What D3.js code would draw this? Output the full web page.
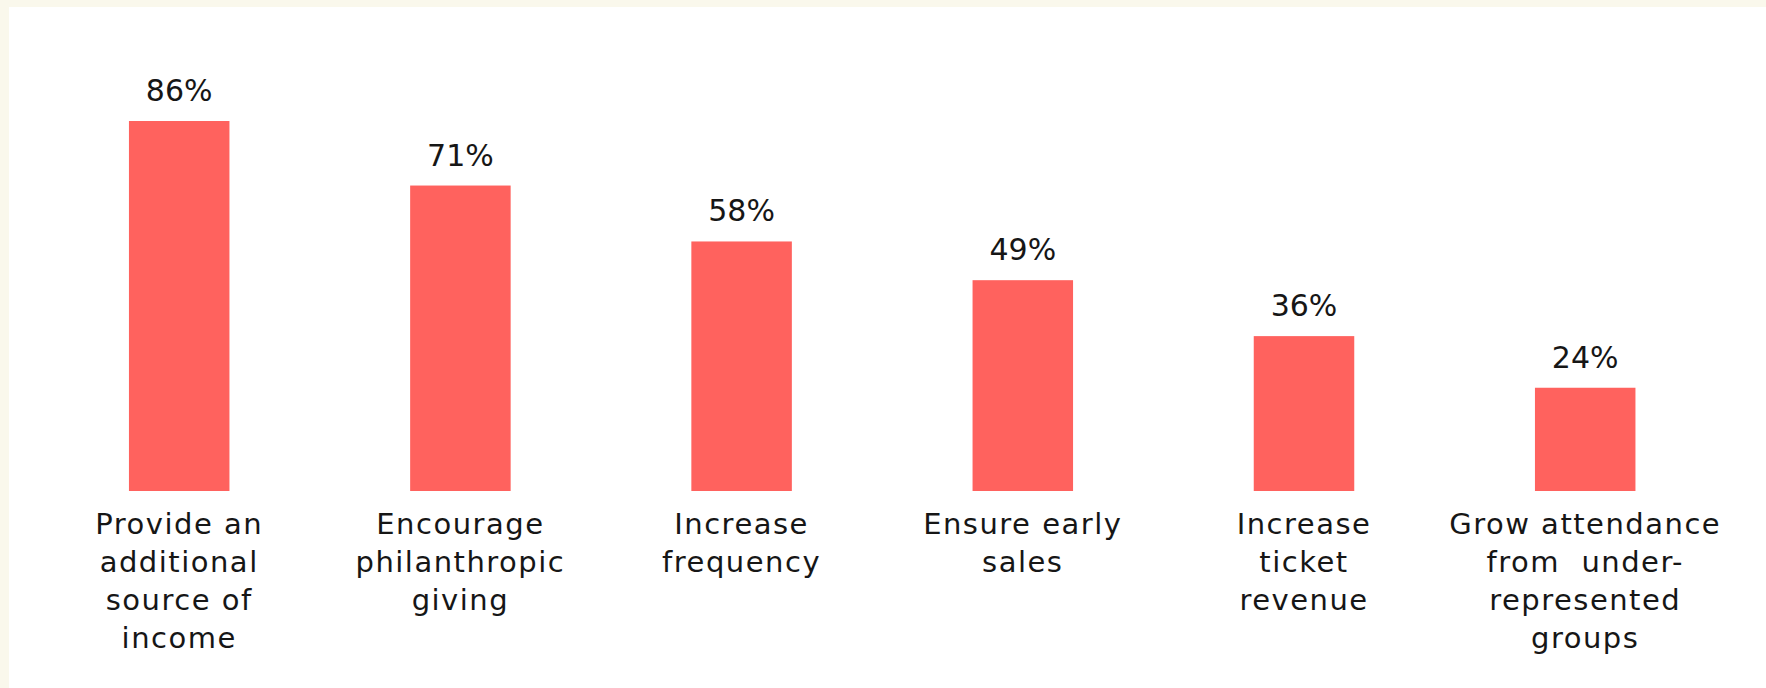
<!DOCTYPE html>
<html><head><meta charset="utf-8">
<script src="https://cdn.jsdelivr.net/npm/d3@7"></script>
<style>
html,body{margin:0;padding:0;background:#FAF8EC;}
svg{display:block;}
text{font-family:"DejaVu Sans",sans-serif;fill:#161616;white-space:pre;}
</style></head>
<body>
<svg id="chart" width="1766" height="688"></svg>
<script>
const categories = [
  "Provide an additional source of income",
  "Encourage philanthropic giving",
  "Increase frequency",
  "Ensure early sales",
  "Increase ticket revenue",
  "Grow attendance from  under-represented groups"
];
const labelLines = [
  ["Provide an","additional","source of","income"],
  ["Encourage","philanthropic","giving"],
  ["Increase","frequency"],
  ["Ensure early","sales"],
  ["Increase","ticket","revenue"],
  ["Grow attendance","from  under-","represented","groups"]
];
const values = [86, 71, 58, 49, 36, 24];

const svg = d3.select("#chart");
svg.append("rect").attr("x",9).attr("y",7).attr("width",1766-9).attr("height",688-7).attr("fill","#ffffff");

const x = d3.scaleBand().domain(categories).range([38.6, 1725.8]).paddingInner(0.6426).paddingOuter(0.3213);
const y = d3.scaleLinear().domain([0, 86]).range([491, 121]);

svg.selectAll("rect.bar").data(values).join("rect")
  .attr("class","bar")
  .attr("x",(d,i)=>x(categories[i]))
  .attr("width",x.bandwidth())
  .attr("y",d=>y(d))
  .attr("height",d=>y(0)-y(d))
  .attr("fill","#FF625E");

svg.selectAll("text.val").data(values).join("text")
  .attr("class","val")
  .attr("x",(d,i)=>x(categories[i])+x.bandwidth()/2)
  .attr("y",d=>y(d)-20)
  .attr("text-anchor","middle")
  .style("font-size","30px")
  .text(d=>d+"%");

const g = svg.selectAll("text.cat").data(labelLines).join("text")
  .attr("class","cat")
  .attr("text-anchor","middle")
  .style("font-size","29px")
  .style("letter-spacing","1.5px");
g.each(function(lines,i){
  const cx = x(categories[i])+x.bandwidth()/2;
  d3.select(this).selectAll("tspan").data(lines).join("tspan")
    .attr("x",cx)
    .attr("y",(l,j)=>y(0)+42.5+j*38.2)
    .text(l=>l);
});
</script>
</body></html>
